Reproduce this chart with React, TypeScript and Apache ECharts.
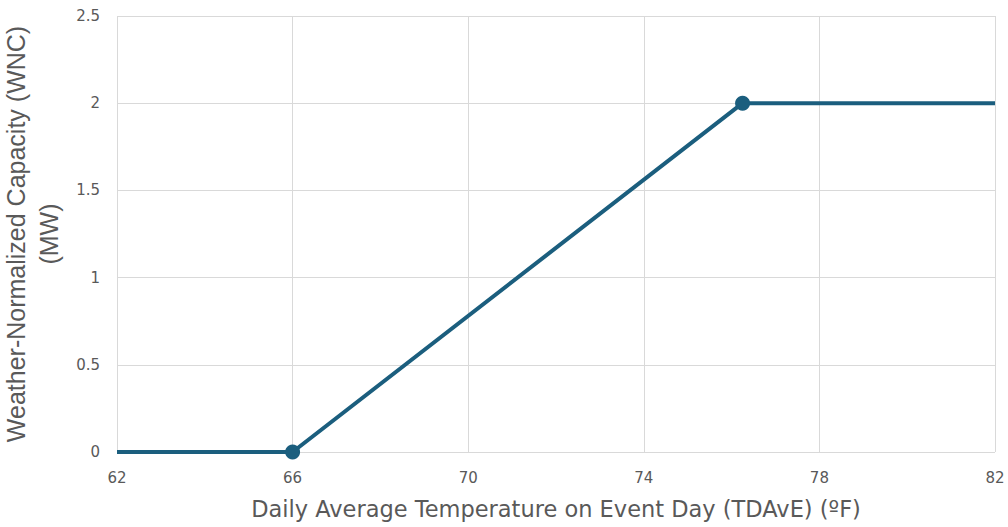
import React, { useEffect, useRef } from "react";
import * as echarts from "echarts";

const xTemps = [62, 66, 76.25, 82];
const yCapacity = [0, 0, 2, 2];
const markerIdx = [1, 2];
const xTitle = "Daily Average Temperature on Event Day (TDAvE) (ºF)";
const yTitle = "Weather-Normalized Capacity (WNC)\n(MW)";

export default function App() {
  const ref = useRef<HTMLDivElement>(null);
  useEffect(() => {
    if (!ref.current) return;
    const chart = echarts.init(ref.current, undefined, { renderer: "svg" });
    const lineData = xTemps.map((x, i) => [x, yCapacity[i]]);
    const markerData = markerIdx.map((i) => [xTemps[i], yCapacity[i]]);
    chart.setOption({
      animation: false,
      grid: { left: 117, right: 13, top: 16, bottom: 75, containLabel: false, outerBoundsMode: "none" },
      xAxis: {
        type: "value",
        min: 62,
        max: 82,
        interval: 4,
        name: xTitle,
        nameLocation: "middle",
        nameGap: 45,
        nameTextStyle: { fontFamily: "DejaVu Sans", fontSize: 22.5, color: "#595959" },
        axisLine: { show: false },
        axisTick: { show: false },
        axisLabel: { color: "#595959", fontSize: 15, margin: 18, fontFamily: "DejaVu Sans" },
        splitLine: { show: true, lineStyle: { color: "#d9d9d9", width: 1 } },
      },
      yAxis: {
        type: "value",
        min: 0,
        max: 2.5,
        interval: 0.5,
        name: yTitle,
        nameLocation: "middle",
        nameGap: 43,
        nameTextStyle: { fontFamily: "Liberation Sans", fontSize: 25, color: "#595959", lineHeight: 33 },
        axisLine: { show: false },
        axisTick: { show: false },
        axisLabel: { color: "#595959", fontSize: 15, margin: 17, fontFamily: "DejaVu Sans" },
        splitLine: { show: true, lineStyle: { color: "#d9d9d9", width: 1 } },
      },
      series: [
        {
          type: "line",
          data: lineData,
          showSymbol: false,
          symbol: "none",
          lineStyle: { color: "#1b5e7e", width: 4 },
          z: 2,
        },
        {
          type: "scatter",
          data: markerData,
          symbol: "circle",
          symbolSize: 15,
          itemStyle: { color: "#1b5e7e", opacity: 1 },
          z: 3,
        },
      ],
    });
    return () => chart.dispose();
  }, []);
  return <div ref={ref} style={{ width: 1008, height: 527, position: "absolute", left: 0, top: 0 }} />;
}
